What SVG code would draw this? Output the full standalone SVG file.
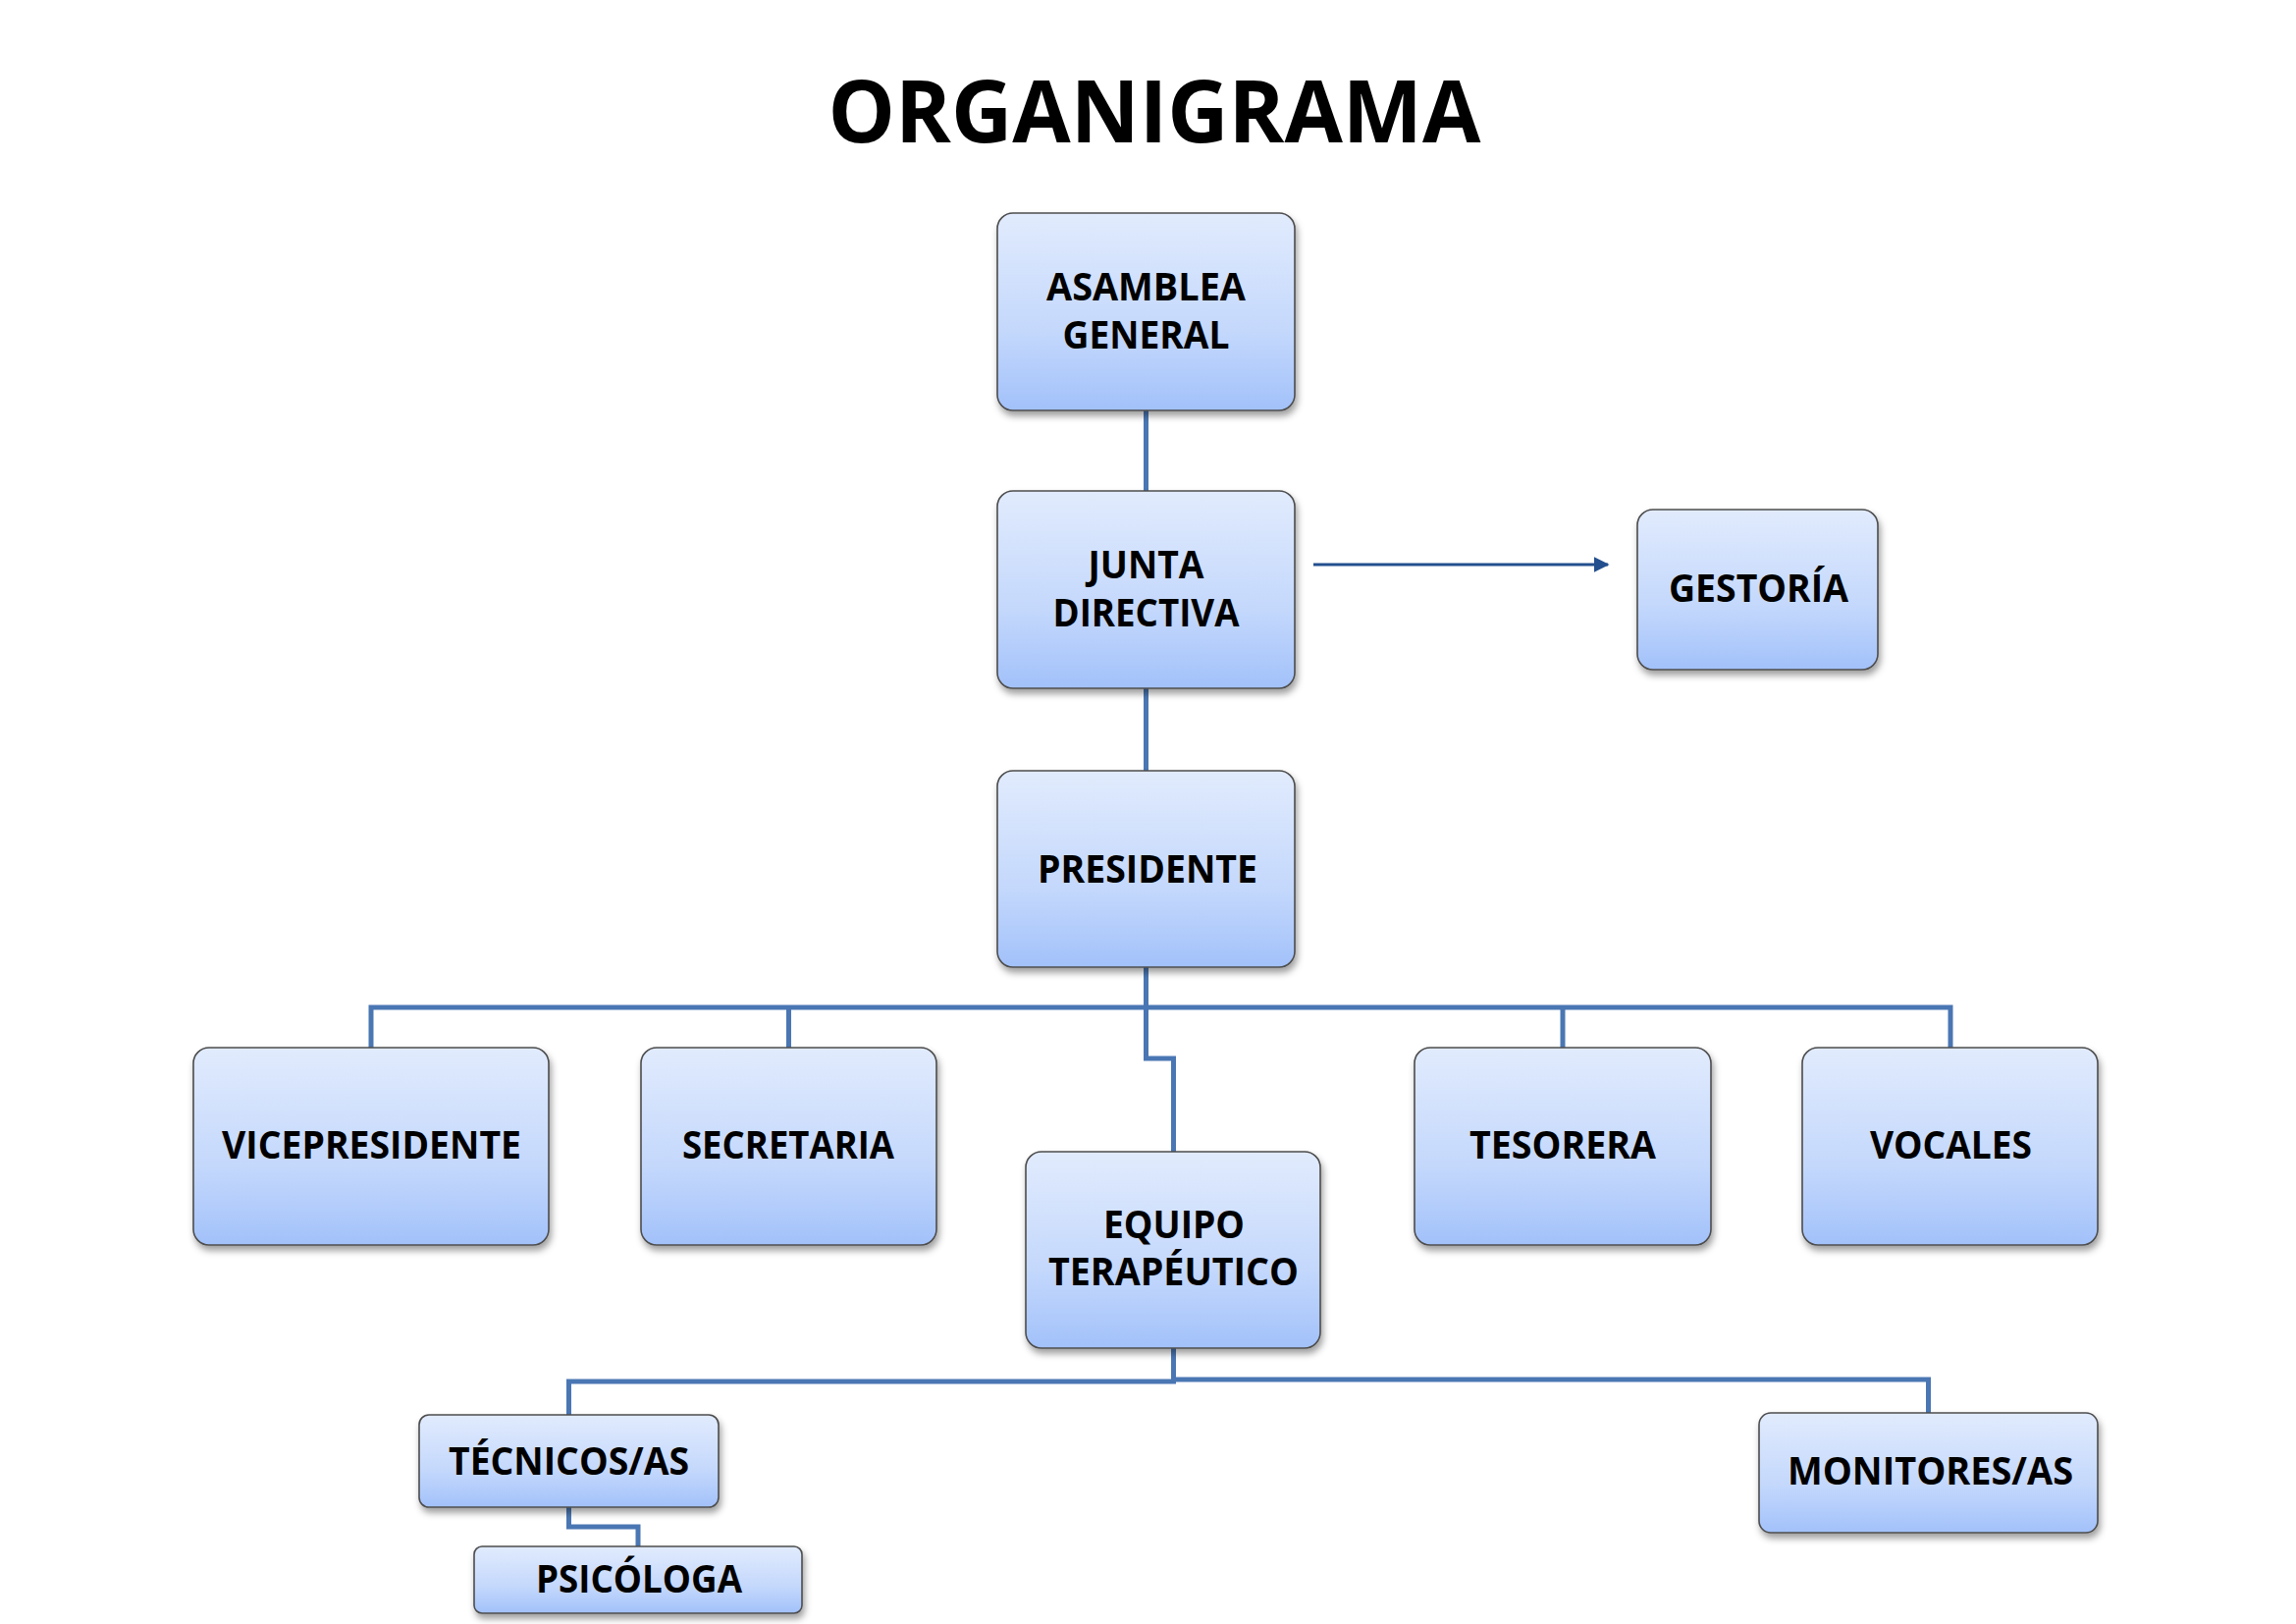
<svg xmlns="http://www.w3.org/2000/svg" width="2339" height="1654" viewBox="0 0 2339 1654">
<defs>
<linearGradient id="boxGrad" x1="0" y1="0" x2="0" y2="1">
<stop offset="0" stop-color="#E1EBFD"/>
<stop offset="0.6" stop-color="#C4D8FC"/>
<stop offset="1" stop-color="#A2C1FA"/>
</linearGradient>
<filter id="shadow" x="-10%" y="-10%" width="125%" height="130%">
<feDropShadow dx="2" dy="5" stdDeviation="3.5" flood-color="#000" flood-opacity="0.38"/>
</filter>
<marker id="arrowHead" viewBox="0 0 10 10" refX="9" refY="5" markerWidth="5" markerHeight="5" orient="auto" markerUnits="strokeWidth">
<path d="M0,0 L10,5 L0,10 z" fill="#234F8E"/>
</marker>
</defs>
<style>
.box{fill:url(#boxGrad);stroke:#4D4D4D;stroke-width:1.6;filter:url(#shadow)}
.lbl{font-family:"Open Sans","Liberation Sans",sans-serif;font-weight:bold;font-size:39px;fill:#000;text-anchor:middle}
.title{font-family:"Open Sans","Liberation Sans",sans-serif;font-weight:bold;font-size:88px;fill:#000;text-anchor:middle}
.con{fill:none;stroke:#4A77B3;stroke-width:5;stroke-linejoin:miter}
.arr{fill:none;stroke:#234F8E;stroke-width:3.2}
</style>
<rect width="2339" height="1654" fill="#FFFFFF"/>
<text class="title" x="1176" y="145" textLength="665" lengthAdjust="spacingAndGlyphs">ORGANIGRAMA</text>

<g id="connectors">
<path class="con" d="M1167.5,418 V500"/>
<path class="con" d="M1167.5,701 V785"/>
<path class="con" d="M1167.5,985 V1078 H1195.5 V1173"/>
<path class="con" d="M378,1067 V1026 H1987 V1067"/>
<path class="con" d="M803.5,1026 V1067"/>
<path class="con" d="M1592,1026 V1067"/>
<path class="con" d="M1195.5,1373 V1407 H579.5 V1441"/>
<path class="con" d="M1195.5,1405 H1964.5 V1439"/>
<path class="con" d="M579.5,1535 V1555 H650 V1575"/>
<path class="arr" d="M1338,575 H1638" marker-end="url(#arrowHead)"/>
</g>

<g id="asamblea">
<rect class="box" x="1016" y="217" width="303" height="201" rx="16"/>
<text class="lbl" x="1167.5" y="305.6" textLength="203" lengthAdjust="spacingAndGlyphs">ASAMBLEA</text>
<text class="lbl" x="1167.5" y="355.4" textLength="170" lengthAdjust="spacingAndGlyphs">GENERAL</text>
</g>
<g id="junta">
<rect class="box" x="1016" y="500" width="303" height="201" rx="16"/>
<text class="lbl" x="1167.5" y="588.6" textLength="118" lengthAdjust="spacingAndGlyphs">JUNTA</text>
<text class="lbl" x="1167.5" y="638.4" textLength="190" lengthAdjust="spacingAndGlyphs">DIRECTIVA</text>
</g>
<g id="gestoria">
<rect class="box" x="1668" y="519" width="245" height="163" rx="16"/>
<text class="lbl" x="1791.5" y="613" textLength="183" lengthAdjust="spacingAndGlyphs">GESTORÍA</text>
</g>
<g id="presidente">
<rect class="box" x="1016" y="785" width="303" height="200" rx="16"/>
<text class="lbl" x="1169" y="898.5" textLength="224" lengthAdjust="spacingAndGlyphs">PRESIDENTE</text>
</g>
<g id="vicepresidente">
<rect class="box" x="197" y="1067" width="362" height="201" rx="16"/>
<text class="lbl" x="378.5" y="1180" textLength="305" lengthAdjust="spacingAndGlyphs">VICEPRESIDENTE</text>
</g>
<g id="secretaria">
<rect class="box" x="653" y="1067" width="301" height="201" rx="16"/>
<text class="lbl" x="803" y="1180" textLength="216" lengthAdjust="spacingAndGlyphs">SECRETARIA</text>
</g>
<g id="equipo">
<rect class="box" x="1045" y="1173" width="300" height="200" rx="16"/>
<text class="lbl" x="1196" y="1261" textLength="144" lengthAdjust="spacingAndGlyphs">EQUIPO</text>
<text class="lbl" x="1195.5" y="1309" textLength="255" lengthAdjust="spacingAndGlyphs">TERAPÉUTICO</text>
</g>
<g id="tesorera">
<rect class="box" x="1441" y="1067" width="302" height="201" rx="16"/>
<text class="lbl" x="1592" y="1180" textLength="190" lengthAdjust="spacingAndGlyphs">TESORERA</text>
</g>
<g id="vocales">
<rect class="box" x="1836" y="1067" width="301" height="201" rx="16"/>
<text class="lbl" x="1987.5" y="1180" textLength="165" lengthAdjust="spacingAndGlyphs">VOCALES</text>
</g>
<g id="tecnicos">
<rect class="box" x="427" y="1441" width="305" height="94" rx="10"/>
<text class="lbl" x="579.5" y="1501.7" textLength="245" lengthAdjust="spacingAndGlyphs">TÉCNICOS/AS</text>
</g>
<g id="psicologa">
<rect class="box" x="483" y="1575" width="334" height="68" rx="8"/>
<text class="lbl" x="651" y="1621.7" textLength="210" lengthAdjust="spacingAndGlyphs">PSICÓLOGA</text>
</g>
<g id="monitores">
<rect class="box" x="1792" y="1439" width="345" height="122" rx="12"/>
<text class="lbl" x="1966.5" y="1512" textLength="291" lengthAdjust="spacingAndGlyphs">MONITORES/AS</text>
</g>
</svg>
